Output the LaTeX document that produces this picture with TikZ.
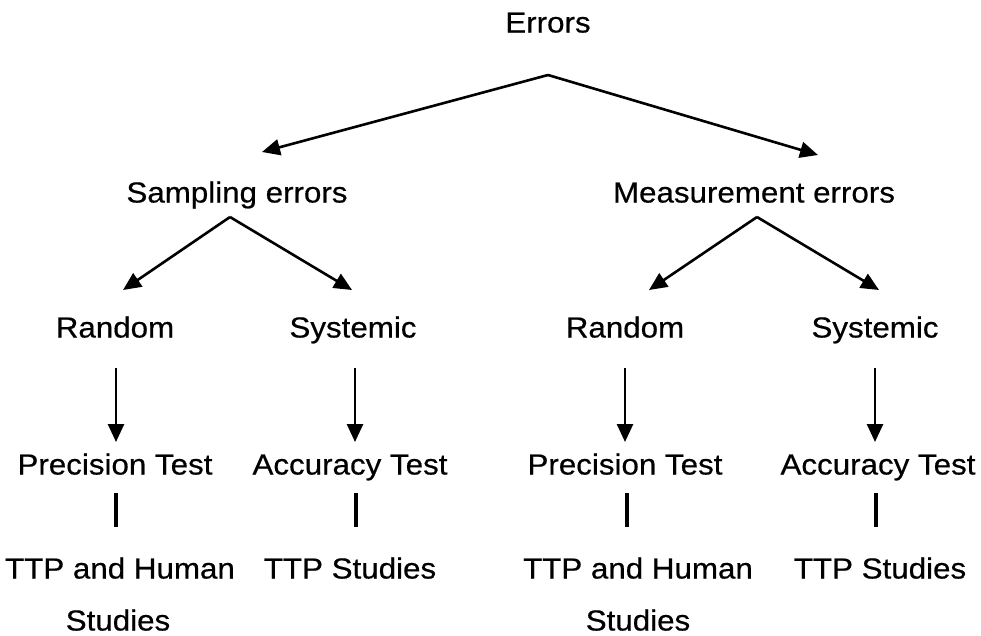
\documentclass[tikz,border=0pt]{standalone}
\usepackage{fontspec}
\setmainfont[FakeStretch=1.08,FakeBold=0.5]{Liberation Sans}
\usepackage{tikz}
\usetikzlibrary{arrows.meta}

\begin{document}
\begin{tikzpicture}[
    x=1pt, y=-1pt,
    every node/.style={font=\fontsize{29}{31}\selectfont, inner sep=0pt, text height=21pt, text depth=0pt},
    branch/.style={draw, line width=2.6pt, -{Triangle[length=18pt,width=16pt]}},
    link/.style={draw, line width=4pt}
]
\useasboundingbox (0,0) rectangle (981,635);

% labels
\node (errors) at (548,22) {Errors};
\node (samp) at (237,192) {Sampling errors};
\node (meas) at (754,192) {Measurement errors};
\node (srand) at (115,327) {Random};
\node (ssys) at (353,327) {Systemic};
\node (mrand) at (625,327) {Random};
\node (msys) at (875,327) {Systemic};
\node (sprec) at (115,464) {Precision Test};
\node (sacc) at (350,464) {Accuracy Test};
\node (mprec) at (625,464) {Precision Test};
\node (macc) at (878,464) {Accuracy Test};
\node (sttp) at (120,568) {TTP and Human};
\node (sstud) at (118,620) {Studies};
\node (sttps) at (350,568) {TTP Studies};
\node (mttp) at (638,568) {TTP and Human};
\node (mstud) at (638,620) {Studies};
\node (mttps) at (880,568) {TTP Studies};

% connector ends
\coordinate (etop) at (548,75);
\coordinate (etosamp) at (262,152);
\coordinate (etomeas) at (818,155);
\coordinate (stop) at (230,217);
\coordinate (storand) at (123,290);
\coordinate (stosys) at (352,290);
\coordinate (mtop) at (757,217);
\coordinate (mtorand) at (649,290);
\coordinate (mtosys) at (879,290);

\draw[branch] (etop) -- (etosamp);
\draw[branch] (etop) -- (etomeas);
\draw[branch] (stop) -- (storand);
\draw[branch] (stop) -- (stosys);
\draw[branch] (mtop) -- (mtorand);
\draw[branch] (mtop) -- (mtosys);

% down arrows and bars
\foreach \x in {116, 355, 625, 875}
    \draw[branch] (\x,368) -- (\x,442);
\foreach \x in {116, 356, 627, 876}
    \draw[link] (\x,493) -- (\x,527);

\end{tikzpicture}
\end{document}
